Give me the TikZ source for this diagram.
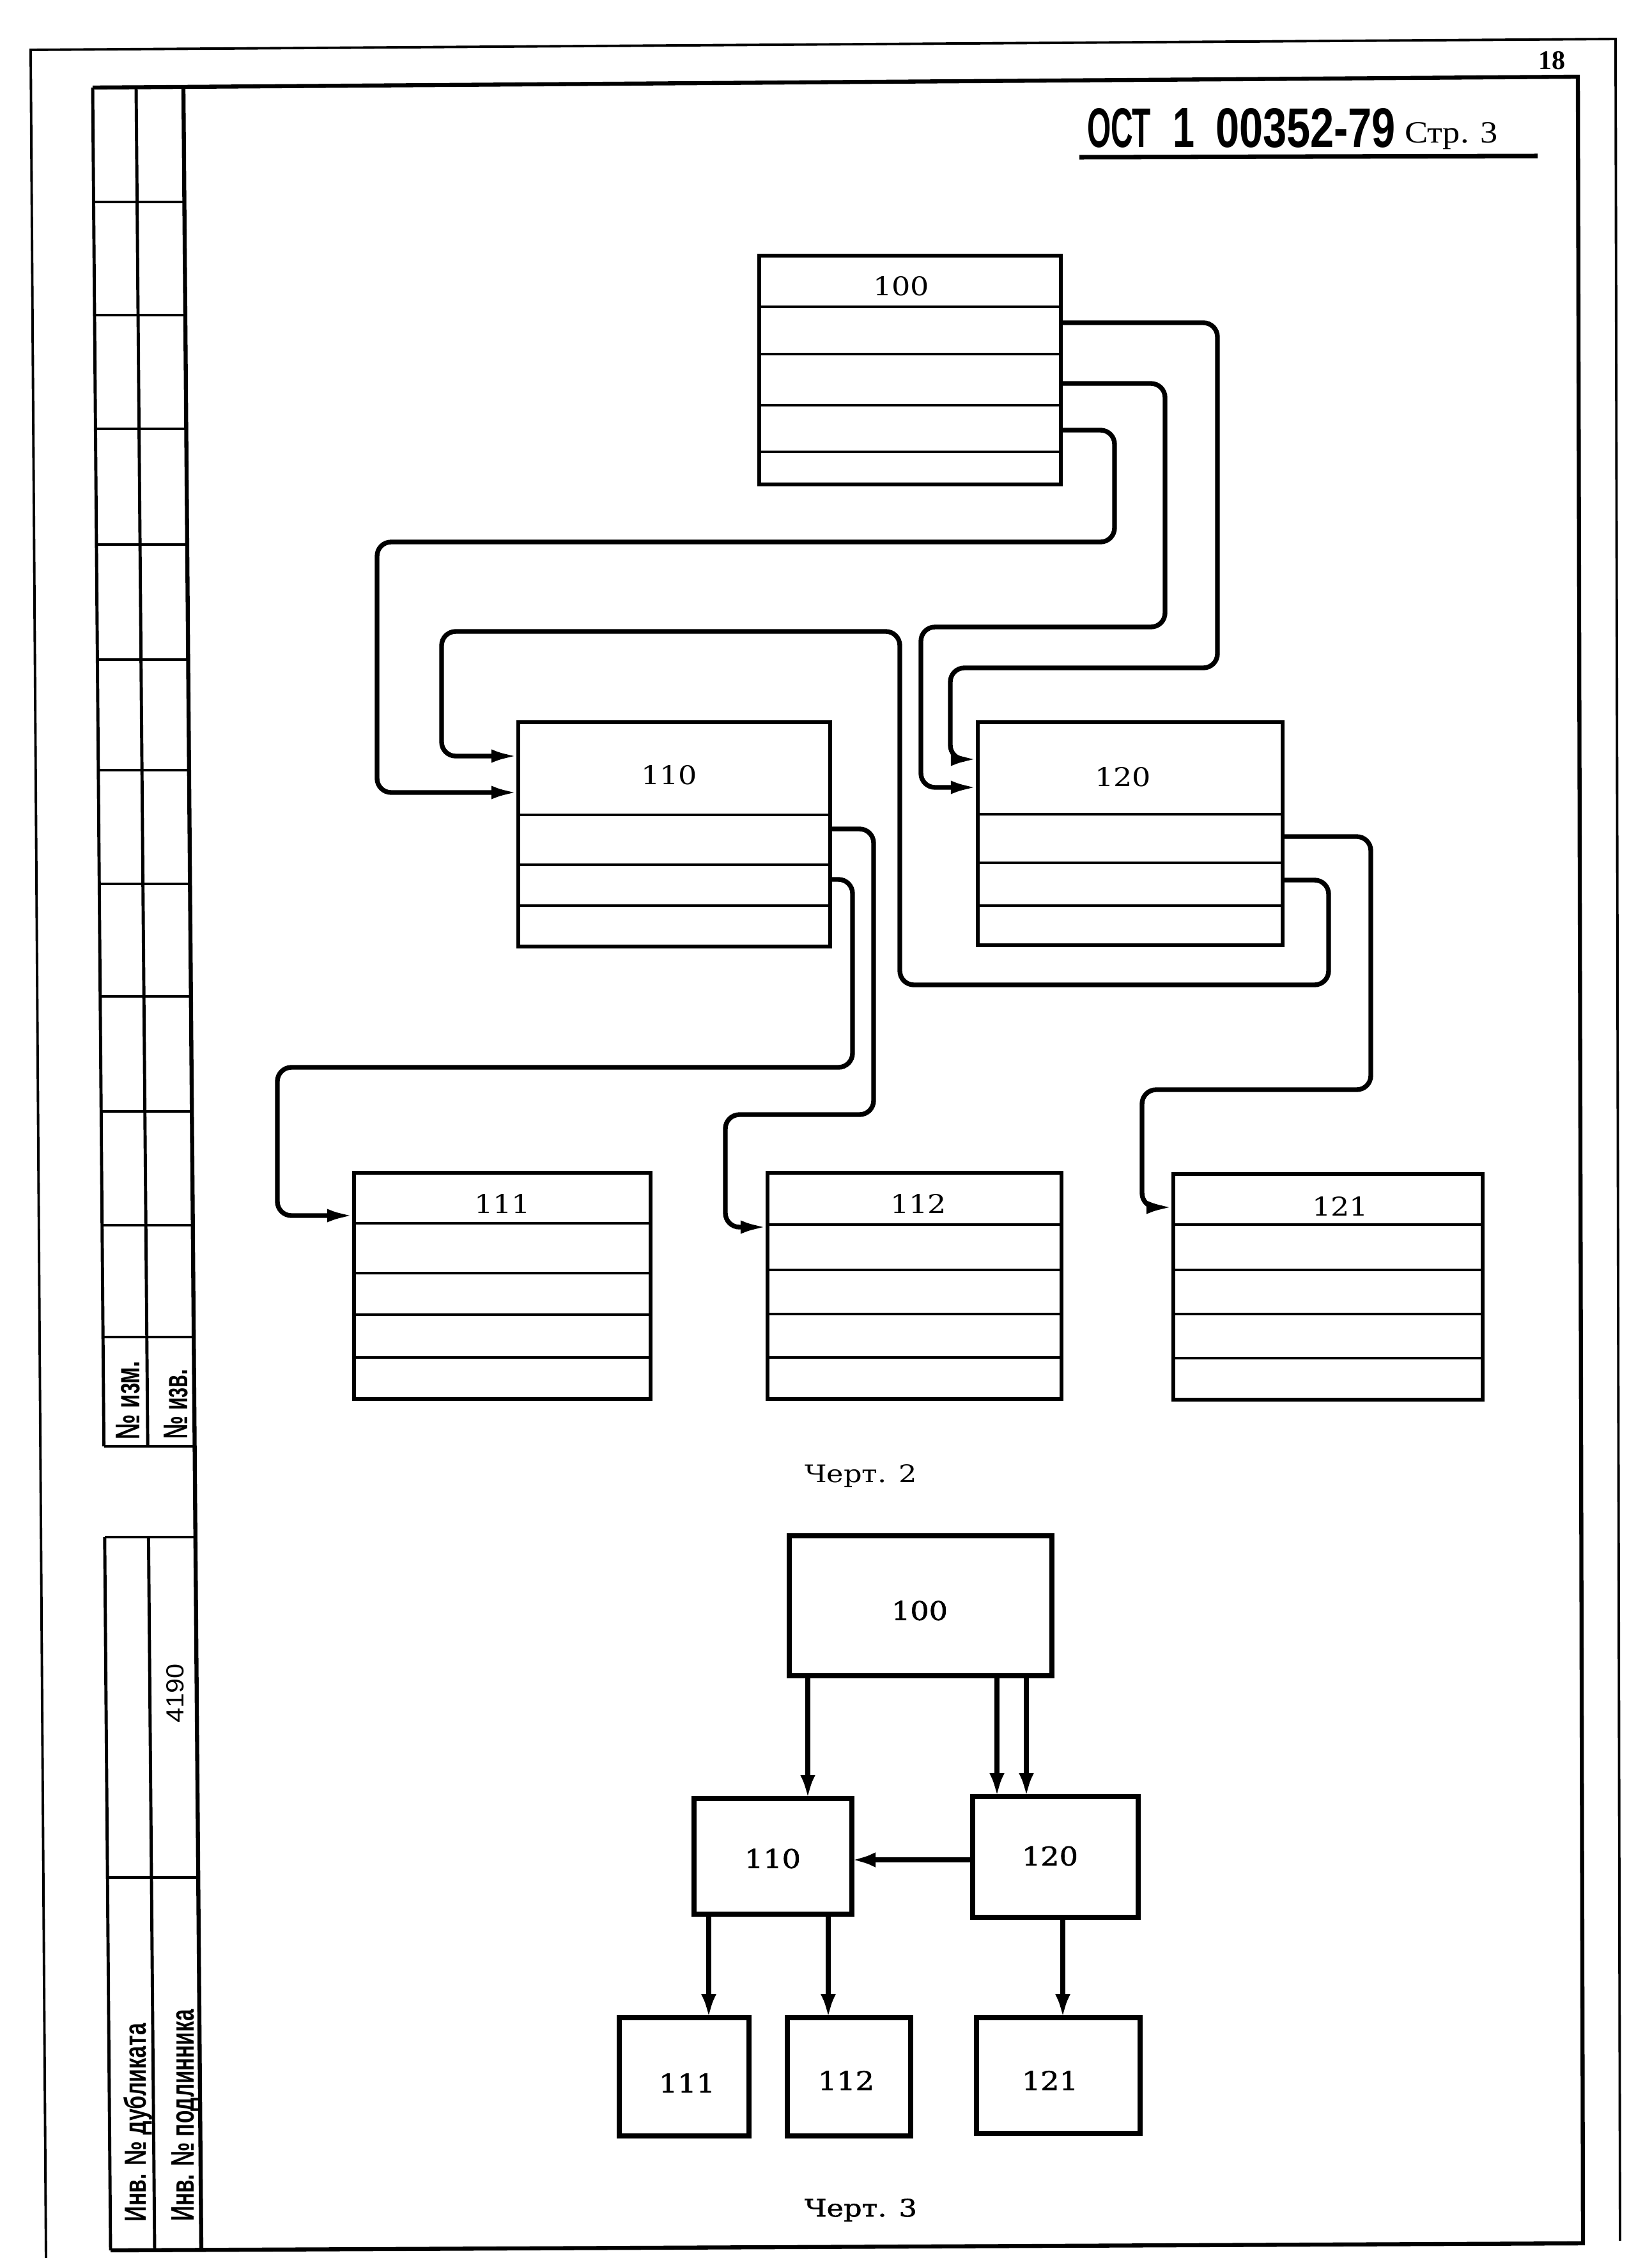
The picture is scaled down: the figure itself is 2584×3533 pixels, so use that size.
\documentclass[tikz,border=0pt]{standalone}
\usepackage{fontspec}
\usepackage{graphicx}
\usetikzlibrary{arrows.meta}
\setmainfont{DejaVu Serif}
\newfontfamily\lblfont{DejaVu Serif}
\newfontfamily\lblfontb[FakeBold=1.3]{DejaVu Serif}
\newfontfamily\sansfnt{Liberation Sans}
\newfontfamily\serffnt{Liberation Serif}
\newlength\pxu
\setlength\pxu{0.01cm}
\newcommand\fitt[3]{\resizebox{#1\pxu}{#2\pxu}{#3}}
\begin{document}
\begin{tikzpicture}[x=0.01cm,y=-0.01cm,
  frameo/.style={line width=1.1pt},
  framei/.style={line width=1.8pt, line join=miter},
  stripl/.style={line width=1.4pt},
  rowbox/.style={draw, line width=1.6pt, inner sep=0pt, outer sep=0pt, anchor=north west},
  rowline/.style={line width=1.1pt},
  conn/.style={line width=2.1pt, rounded corners=0.22cm, -{Latex[length=12pt,width=6pt]}},
  blk/.style={draw, line width=2.4pt, inner sep=0pt, outer sep=0pt, anchor=north west},
  arr/.style={line width=2.1pt, -{Latex[length=10.5pt,width=6.8pt]}},
  lbl/.style={inner sep=0pt, outer sep=0pt},
]
\useasboundingbox (0,0) rectangle (2584,3533);
\fill[white] (0,0) rectangle (2584,3533);

% ---- page frame ----
\draw[frameo] (72,3533) -- (48,78) -- (2528,61) -- (2535,3506);
\draw[framei] (145,137) -- (2469,120) -- (2477,3510) -- (173,3521);
% left strip
\draw[stripl] (145,137) -- (162.6,2263);
\draw[stripl] (213,137) -- (231.2,2263);
\draw[framei] (287,137) -- (315,3521);
\foreach \yy in {316,493,671,852,1032,1205,1383,1559,1739,1917,2092,2263}
  \draw[stripl] ({145+0.008274*(\yy-137)},\yy) -- ({287+0.008274*(\yy-137)},\yy);
\draw[stripl] (163.8,2405) -- (173,3521);
\draw[stripl] (232.4,2405) -- (242,3521);
\draw[stripl] (163.8,2405) -- (305.8,2405);
\draw[stripl] (168.2,2937) -- (310.2,2937);

\node[lbl, rotate=90, anchor=base] (tizm) at (218,2191) {\fitt{123}{37}{\bfseries\sansfnt № изм.}};
\node[lbl, rotate=90, anchor=base] (tizv) at (293,2197) {\fitt{109}{37}{\bfseries\sansfnt № изв.}};
\node[lbl, rotate=90, anchor=base] (tnum) at (287,2649) {\fitt{92}{27}{\sansfnt 4190}};
\node[lbl, rotate=90, anchor=base] (tdub) at (228,3321) {\fitt{310}{35}{\bfseries\sansfnt Инв. № дубликата}};
\node[lbl, rotate=90, anchor=base] (tpod) at (303,3310) {\fitt{331}{35}{\bfseries\sansfnt Инв. № подлинника}};

% ---- header ----
\node[lbl, anchor=base] (pgnum) at (2428,108) {\fitt{42}{28}{\bfseries\serffnt 18}};
\node[lbl, anchor=base] (ost) at (1751,230) {\fitt{100}{61}{\bfseries\sansfnt ОСТ}};
\node[lbl, anchor=base] (ost1) at (1852,230) {\fitt{34}{61}{\bfseries\sansfnt 1}};
\node[lbl, anchor=base] (ostn) at (2043,230) {\fitt{282}{61}{\bfseries\sansfnt 00352-79}};
\node[lbl, anchor=base] (str) at (2271,223) {\fitt{146}{32}{\serffnt Стр. 3}};
\draw[line width=2pt] (1689,246) -- (2406,244);

% ---- Fig. 2 ----
\node[rowbox, minimum width=4.72cm, minimum height=3.58cm] (b100) at (1188,400) {};
\foreach \yy in {480,554,634,707} \draw[rowline] (b100.west |- 0,\yy) -- (b100.east |- 0,\yy);
\node[lbl] (l100) at (1410,448) {\fitt{88}{30}{\lblfont 100}};

\node[rowbox, minimum width=4.88cm, minimum height=3.51cm] (b110) at (811,1130) {};
\foreach \yy in {1275,1353,1417} \draw[rowline] (b110.west |- 0,\yy) -- (b110.east |- 0,\yy);
\node[lbl] (l110) at (1047,1213) {\fitt{88}{30}{\lblfont 110}};

\node[rowbox, minimum width=4.77cm, minimum height=3.49cm] (b120) at (1530,1130) {};
\foreach \yy in {1274,1350,1417} \draw[rowline] (b120.west |- 0,\yy) -- (b120.east |- 0,\yy);
\node[lbl] (l120) at (1757,1216) {\fitt{88}{30}{\lblfont 120}};

\node[rowbox, minimum width=4.64cm, minimum height=3.54cm] (b111) at (554,1835) {};
\foreach \yy in {1914,1992,2057,2124} \draw[rowline] (b111.west |- 0,\yy) -- (b111.east |- 0,\yy);
\node[lbl] (l111) at (786,1883) {\fitt{88}{30}{\lblfont 111}};

\node[rowbox, minimum width=4.60cm, minimum height=3.54cm] (b112) at (1201,1835) {};
\foreach \yy in {1916,1987,2056,2124} \draw[rowline] (b112.west |- 0,\yy) -- (b112.east |- 0,\yy);
\node[lbl] (l112) at (1437,1883) {\fitt{88}{30}{\lblfont 112}};

\node[rowbox, minimum width=4.84cm, minimum height=3.53cm] (b121) at (1836,1837) {};
\foreach \yy in {1916,1987,2056,2125} \draw[rowline] (b121.west |- 0,\yy) -- (b121.east |- 0,\yy);
\node[lbl] (l121) at (2097,1887) {\fitt{88}{30}{\lblfont 121}};

\draw[conn] (b100.east |- 0,505) -- (1905,505) -- (1905,1045) -- (1487,1045) -- (1487,1188) -- (b120.west |- 0,1188);
\draw[conn] (b100.east |- 0,600) -- (1823,600) -- (1823,981) -- (1441,981) -- (1441,1232) -- (b120.west |- 0,1232);
\draw[conn] (b100.east |- 0,673) -- (1744,673) -- (1744,848) -- (590,848) -- (590,1240) -- (b110.west |- 0,1240);
\draw[conn] (b120.east |- 0,1377) -- (2079,1377) -- (2079,1541) -- (1408,1541) -- (1408,988) -- (691,988) -- (691,1183) -- (b110.west |- 0,1183);
\draw[conn] (b110.east |- 0,1297) -- (1367,1297) -- (1367,1744) -- (1135,1744) -- (1135,1920) -- (b112.west |- 0,1920);
\draw[conn] (b110.east |- 0,1376) -- (1334,1376) -- (1334,1670) -- (434,1670) -- (434,1902) -- (b111.west |- 0,1902);
\draw[conn] (b120.east |- 0,1309) -- (2145,1309) -- (2145,1705) -- (1787,1705) -- (1787,1889) -- (b121.west |- 0,1889);

\node[lbl] (cap2) at (1347,2309) {\fitt{176}{28}{\lblfont Черт. 2}};

% ---- Fig. 3 ----
\node[blk, minimum width=4.11cm, minimum height=2.19cm] (c100) at (1235,2403) {};
\node[blk, minimum width=2.47cm, minimum height=1.81cm] (c110) at (1086,2814) {};
\node[blk, minimum width=2.59cm, minimum height=1.89cm] (c120) at (1522,2811) {};
\node[blk, minimum width=2.03cm, minimum height=1.85cm] (c111) at (969,3157) {};
\node[blk, minimum width=1.93cm, minimum height=1.85cm] (c112) at (1232,3157) {};
\node[blk, minimum width=2.56cm, minimum height=1.81cm] (c121) at (1528,3157) {};
\node[lbl] (m100) at (1439,2520) {\fitt{88}{30}{\lblfontb 100}};
\node[lbl] (m110) at (1209,2908) {\fitt{88}{30}{\lblfontb 110}};
\node[lbl] (m120) at (1643,2904) {\fitt{88}{30}{\lblfontb 120}};
\node[lbl] (m111) at (1075,3259) {\fitt{88}{30}{\lblfontb 111}};
\node[lbl] (m112) at (1324,3255) {\fitt{88}{30}{\lblfontb 112}};
\node[lbl] (m121) at (1643,3255) {\fitt{88}{30}{\lblfontb 121}};

\draw[arr] (c100.south -| 1264,0) -- (c110.north -| 1264,0);
\draw[arr] (c100.south -| 1560,0) -- (c120.north -| 1560,0);
\draw[arr] (c100.south -| 1606,0) -- (c120.north -| 1606,0);
\draw[arr] (c120.west |- 0,2910) -- (c110.east |- 0,2910);
\draw[arr] (c110.south -| 1109,0) -- (c111.north -| 1109,0);
\draw[arr] (c110.south -| 1296,0) -- (c112.north -| 1296,0);
\draw[arr] (c120.south -| 1663,0) -- (c121.north -| 1663,0);

\node[lbl] (cap3) at (1347,3458) {\fitt{176}{28}{\lblfontb Черт. 3}};
\end{tikzpicture}
\end{document}
